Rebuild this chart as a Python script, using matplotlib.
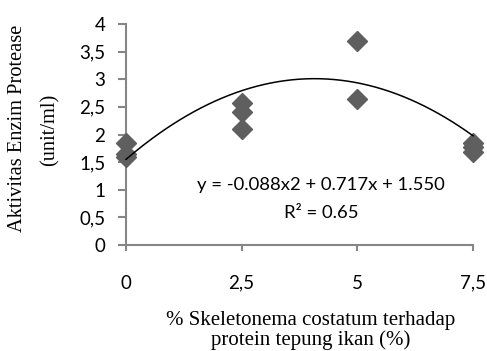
import numpy as np
import matplotlib
matplotlib.use("Agg")
import matplotlib.pyplot as plt

# data
konsentrasi = [0, 0, 0, 2.5, 2.5, 2.5, 5, 5, 7.5, 7.5, 7.5]
aktivitas = [1.85, 1.65, 1.60, 2.57, 2.41, 2.10, 3.70, 2.65, 1.85, 1.78, 1.68]
koef = [-0.088, 0.717, 1.550]   # trendline coefficients (x2, x, c)
r2 = 0.65

xticks = [0, 2.5, 5, 7.5]
xlabels = ["0", "2,5", "5", "7,5"]
yticks = [0, 0.5, 1, 1.5, 2, 2.5, 3, 3.5, 4]
ylabels = ["0", "0,5", "1", "1,5", "2", "2,5", "3", "3,5", "4"]

abu = "#868686"
tick_font = "Lato"
serif = "Liberation Serif"

fig = plt.figure(figsize=(4.87, 3.51), dpi=100)
ax = fig.add_axes([126/487, 1 - 245/351, (473 - 126)/487, (245 - 24)/351])

xs = np.linspace(0, 7.5, 200)
ax.plot(xs, np.polyval(koef, xs), color="black", lw=1.1, zorder=3, clip_on=False)
ax.plot(konsentrasi, aktivitas, ls="none", marker="D", ms=10.5,
        color="#5f5f5f", zorder=2, clip_on=False)

ax.set_xlim(0, 7.5)
ax.set_ylim(0, 4)
ax.set_xticks(xticks)
ax.set_xticklabels(xlabels, fontfamily=tick_font, fontsize=13.5)
ax.set_yticks(yticks)
ax.set_yticklabels(ylabels, fontfamily=tick_font, fontsize=13.5)
ax.tick_params(axis="x", direction="out", length=4.3, color=abu, width=1.5, pad=17)
ax.tick_params(axis="y", direction="out", length=5.8, color=abu, width=1.5, pad=9)
for s in ["top", "right"]:
    ax.spines[s].set_visible(False)
for s in ["left", "bottom"]:
    ax.spines[s].set_color(abu)
    ax.spines[s].set_linewidth(1.5)
    ax.spines[s].set_zorder(1)
ax.patch.set_alpha(0)

a, b, c = koef
ax.text(321/487, 1 - 185/351, "y = %.3fx2 + %.3fx + %.3f" % (a, b, c),
        transform=fig.transFigure, ha="center", va="center",
        fontfamily=tick_font, fontsize=13.3)
ax.text(321/487, 1 - 213/351, "R² = %.2f" % r2,
        transform=fig.transFigure, ha="center", va="center",
        fontfamily=tick_font, fontsize=13.3)

fig.text(311/487, 1 - 320/351, "% Skeletonema costatum terhadap",
         ha="center", va="center", fontfamily=serif, fontsize=15)
fig.text(311/487, 1 - 340/351, "protein tepung ikan (%)",
         ha="center", va="center", fontfamily=serif, fontsize=15)
fig.text(18/487, 1 - 128/351, "Aktivitas Enzim Protease", rotation=90,
         ha="center", va="center", fontfamily=serif, fontsize=14.7)
fig.text(50/487, 1 - 130/351, "(unit/ml)", rotation=90,
         ha="center", va="center", fontfamily=serif, fontsize=14.7)

fig.savefig("out.png", dpi=100)
